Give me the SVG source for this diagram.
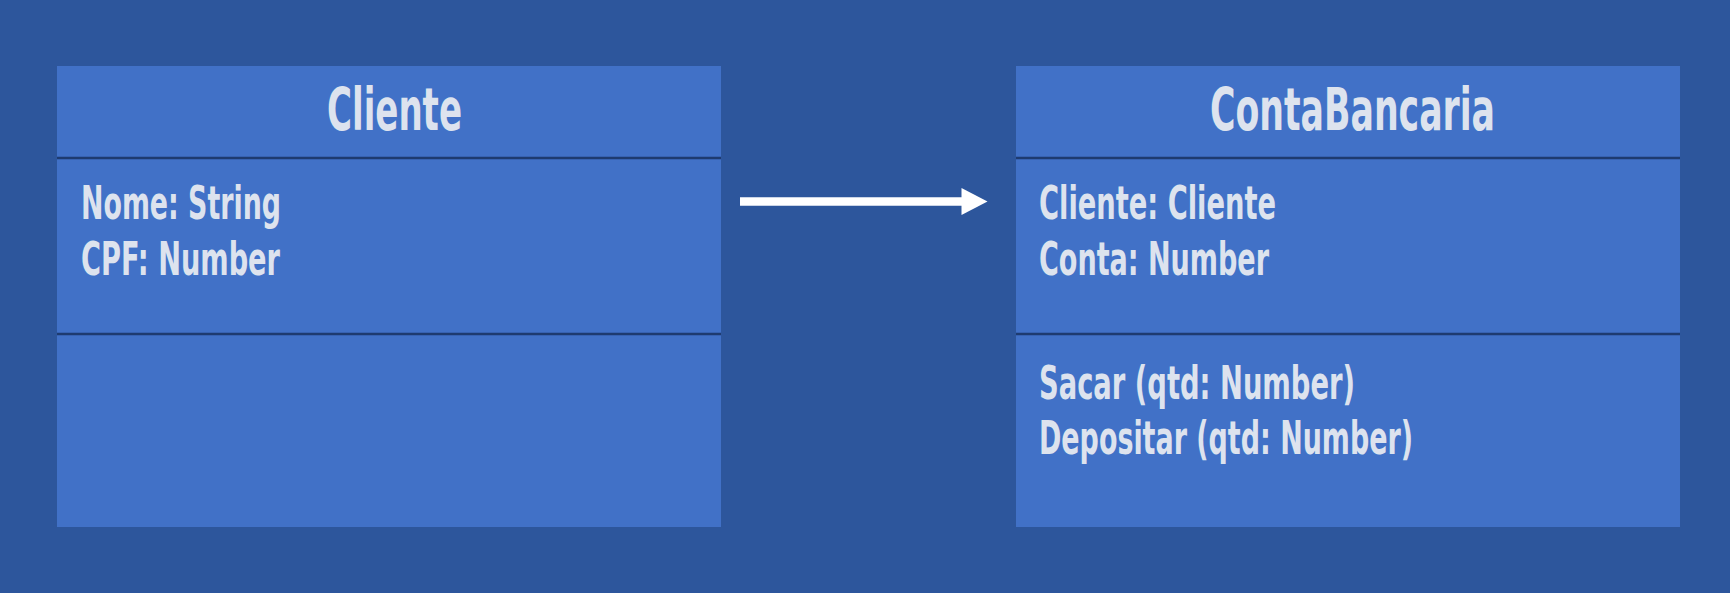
<svg xmlns="http://www.w3.org/2000/svg" width="1730" height="593" viewBox="0 0 1730 593">
<style>
.bg{fill:#2d569c}
.box{fill:#4171c7}
.div{stroke:#1e3b70;stroke-width:2.5}
.t{font-family:"Liberation Sans Narrow","DejaVu Sans Condensed","Liberation Sans",sans-serif;font-weight:bold;fill:#dde3ee}
.title{font-size:59px}
.attr{font-size:46px}
.conn{stroke:#ffffff;stroke-width:8.5;fill:none}
</style>
<defs>
<marker id="arrow" markerUnits="userSpaceOnUse" markerWidth="27" markerHeight="27" refX="4.5" refY="13.5" orient="auto" overflow="visible">
<path d="M0,0 L26,13.5 L0,27 Z" fill="#ffffff"/>
</marker>
</defs>
<rect class="bg" x="0" y="0" width="1730" height="593"/>
<g id="Cliente">
<rect class="box" x="57" y="66" width="664" height="461"/>
<line class="div" x1="57" y1="158" x2="721" y2="158"/>
<line class="div" x1="57" y1="334" x2="721" y2="334"/>
<text class="t title" x="327" y="130" textLength="135" lengthAdjust="spacingAndGlyphs">Cliente</text>
<text class="t attr" x="81" y="219" textLength="200" lengthAdjust="spacingAndGlyphs">Nome: String</text>
<text class="t attr" x="81" y="275" textLength="199" lengthAdjust="spacingAndGlyphs">CPF: Number</text>
</g>
<g id="ContaBancaria">
<rect class="box" x="1016" y="66" width="664" height="461"/>
<line class="div" x1="1016" y1="158" x2="1680" y2="158"/>
<line class="div" x1="1016" y1="334" x2="1680" y2="334"/>
<text class="t title" x="1210" y="130" textLength="285" lengthAdjust="spacingAndGlyphs">ContaBancaria</text>
<text class="t attr" x="1039" y="219" textLength="237" lengthAdjust="spacingAndGlyphs">Cliente: Cliente</text>
<text class="t attr" x="1039" y="275" textLength="230" lengthAdjust="spacingAndGlyphs">Conta: Number</text>
<text class="t attr" x="1039" y="399" textLength="316" lengthAdjust="spacingAndGlyphs">Sacar (qtd: Number)</text>
<text class="t attr" x="1039" y="454" textLength="374" lengthAdjust="spacingAndGlyphs">Depositar (qtd: Number)</text>
</g>
<g id="connectors">
<line class="conn" x1="740" y1="201.5" x2="966" y2="201.5" marker-end="url(#arrow)"/>
</g>
</svg>
